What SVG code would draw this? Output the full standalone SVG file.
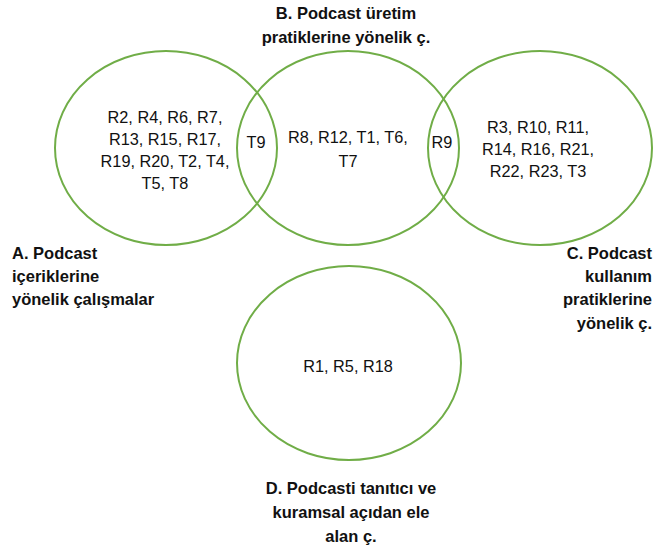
<svg xmlns="http://www.w3.org/2000/svg" width="655" height="547" viewBox="0 0 655 547">
<style>
.c{fill:none;stroke:#70AD47;stroke-width:2}
.t{font-family:"Liberation Sans",Arial,sans-serif;font-size:16.3px;fill:#111;text-anchor:middle}
.l{font-family:"Liberation Sans",Arial,sans-serif;font-size:16.5px;font-weight:bold;fill:#111}
</style>
<rect width="655" height="547" fill="#fff"/>
<g id="nodeA">
<ellipse class="c" cx="166" cy="148" rx="111" ry="97"/>
<text class="t" x="165" y="123">R2, R4, R6, R7,</text>
<text class="t" x="165" y="145">R13, R15, R17,</text>
<text class="t" x="165" y="167">R19, R20, T2, T4,</text>
<text class="t" x="165" y="189">T5, T8</text>
</g>
<g id="nodeB">
<ellipse class="c" cx="348" cy="148" rx="111" ry="97"/>
<text class="t" x="348" y="143">R8, R12, T1, T6,</text>
<text class="t" x="348" y="167">T7</text>
</g>
<g id="nodeC">
<ellipse class="c" cx="540" cy="148" rx="112" ry="97"/>
<text class="t" x="538" y="133">R3, R10, R11,</text>
<text class="t" x="538" y="155">R14, R16, R21,</text>
<text class="t" x="538" y="177">R22, R23, T3</text>
</g>
<g id="nodeD">
<ellipse class="c" cx="349" cy="363" rx="112" ry="97"/>
<text class="t" x="348" y="372">R1, R5, R18</text>
</g>
<g id="overlaps">
<text class="t" x="256" y="148">T9</text>
<text class="t" x="442" y="148">R9</text>
</g>
<g id="labels">
<text class="l" text-anchor="middle" x="346" y="19">B. Podcast üretim</text>
<text class="l" text-anchor="middle" x="346" y="43">pratiklerine yönelik ç.</text>
<text class="l" x="12" y="259">A. Podcast</text>
<text class="l" x="12" y="282">içeriklerine</text>
<text class="l" x="12" y="305">yönelik çalışmalar</text>
<text class="l" text-anchor="end" x="652" y="259">C. Podcast</text>
<text class="l" text-anchor="end" x="652" y="282">kullanım</text>
<text class="l" text-anchor="end" x="652" y="305">pratiklerine</text>
<text class="l" text-anchor="end" x="652" y="329">yönelik ç.</text>
<text class="l" text-anchor="middle" x="351" y="494">D. Podcasti tanıtıcı ve</text>
<text class="l" text-anchor="middle" x="351" y="518">kuramsal açıdan ele</text>
<text class="l" text-anchor="middle" x="351" y="542">alan ç.</text>
</g>
<g id="connectors"></g>
</svg>
